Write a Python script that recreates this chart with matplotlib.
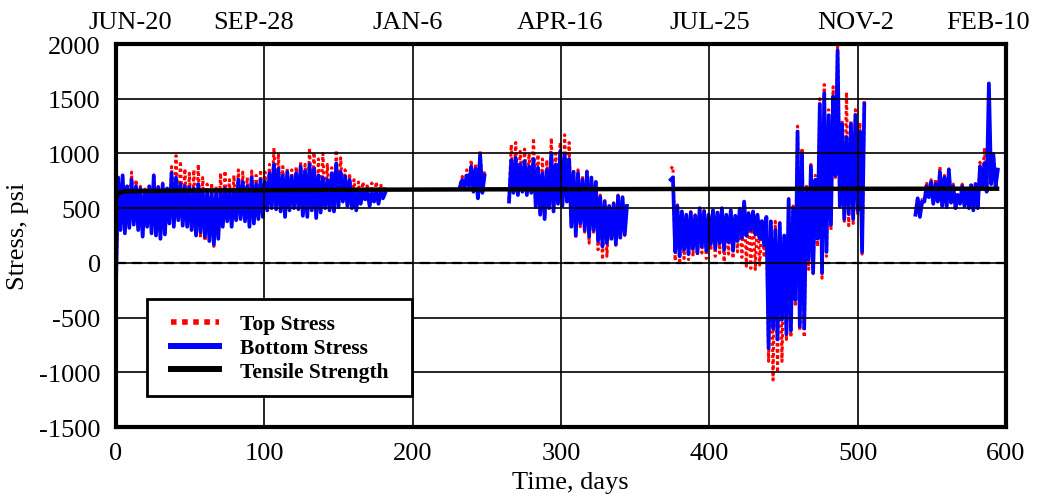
import matplotlib
matplotlib.use("Agg")
import matplotlib.pyplot as plt
from matplotlib.lines import Line2D
from matplotlib.patches import Rectangle

plt.rcParams['font.family'] = ['Liberation Serif', 'DejaVu Serif']
plt.rcParams['axes.unicode_minus'] = False

# sampling step of the read-off values (days)
step = 3

# segment 1: days 0..180
s1_start = 0
s1_bot_hi = [780, 800, 700, 760, 700, 680, 660, 700, 800, 690,
             720, 680, 820, 780, 720, 700, 690, 680, 720, 660,
             650, 660, 640, 660, 680, 660, 670, 760, 740, 700,
             780, 720, 760, 740, 820, 900, 860, 800, 830, 790,
             820, 880, 840, 900, 860, 800, 780, 760, 820, 910,
             830, 790, 760, 660, 650, 660, 650, 640, 660, 650, 640]
s1_bot_lo = [-200, 300, 270, 320, 350, 300, 240, 330, 270, 250,
             220, 260, 360, 330, 390, 340, 330, 300, 250, 280,
             240, 200, 170, 220, 330, 380, 330, 390, 400, 380,
             330, 360, 400, 420, 480, 500, 490, 470, 420, 480,
             500, 490, 430, 420, 480, 410, 460, 500, 480, 470,
             510, 560, 520, 500, 480, 540, 580, 520, 560, 540, 590]
s1_top_hi = [760, 780, 720, 830, 760, 700, 690, 720, 810, 700,
             730, 700, 880, 980, 930, 860, 820, 850, 900, 780,
             720, 730, 700, 820, 840, 760, 800, 850, 830, 780,
             840, 800, 850, 830, 900, 1050, 1000, 880, 860, 850,
             880, 930, 900, 1050, 1010, 950, 1000, 900, 870, 1030,
             960, 850, 820, 760, 740, 740, 720, 730, 740, 720, 710]
s1_top_lo = [-200, 320, 290, 340, 370, 320, 260, 350, 290, 270,
             240, 280, 380, 350, 410, 360, 350, 320, 270, 230,
             200, 180, 150, 240, 350, 400, 350, 410, 420, 400,
             350, 380, 420, 440, 500, 520, 510, 490, 440, 500,
             520, 510, 450, 440, 500, 430, 480, 520, 500, 490,
             530, 580, 540, 520, 500, 560, 600, 540, 580, 560, 610]

# segment 2: days 232..247
s2_start = 232
s2_bot_hi = [760, 800, 880, 860, 990, 800]
s2_bot_lo = [700, 690, 700, 650, 590, 640]
s2_top_hi = [790, 850, 940, 910, 1030, 850]
s2_top_lo = [720, 710, 720, 670, 610, 660]

# segment 3: days 265..343
s3_start = 265
s3_bot_hi = [940, 960, 900, 930, 880, 950, 870, 820, 850, 1000,
             900, 1020, 990, 950, 830, 820, 760, 830, 780, 740,
             600, 560, 520, 540, 610, 600, 520]
s3_bot_lo = [560, 640, 620, 650, 620, 640, 510, 440, 400, 500,
             470, 540, 520, 560, 330, 250, 360, 300, 240, 300,
             200, 150, 180, 220, 170, 230, 260]
s3_top_hi = [1080, 1100, 1020, 1040, 1000, 1140, 990, 950, 940, 1140,
             1000, 1100, 1170, 1100, 860, 850, 800, 840, 790, 760,
             620, 570, 530, 550, 620, 610, 530]
s3_top_lo = [580, 660, 640, 670, 640, 660, 530, 460, 420, 520,
             490, 560, 540, 580, 350, 230, 330, 280, 180, 280,
             120, 30, 60, 200, 160, 210, 250]

# segment 4: days 374..503
s4_start = 374
s4_bot_hi = [780, 520, 470, 440, 460, 430, 500, 470, 440, 480,
             460, 500, 440, 480, 430, 490, 560, 450, 470, 440,
             380, 420, 380, 300, 360, 250, 580, 500, 1200, 1000,
             650, 880, 760, 1450, 1550, 1350, 1520, 1940, 1270, 1150,
             1270, 1350, 1200, 1450]
s4_bot_lo = [760, 100, 60, 120, 80, 130, 90, 150, 110, 170,
             130, 180, 120, 190, 110, 200, 230, 250, 300, 260,
             220, 160, -780, -600, -700, -520, -650, -620, -340, -580,
             -600, 30, -90, 220, -90, 100, 350, 800, 520, 400,
             450, 400, 480, 100]
s4_top_hi = [880, 530, 480, 450, 470, 440, 510, 480, 450, 490,
             470, 510, 450, 490, 440, 500, 570, 460, 480, 450,
             400, 430, 400, 380, 370, 260, 590, 520, 1250, 1050,
             700, 900, 800, 1500, 1630, 1400, 1610, 1990, 1300, 1560,
             1300, 1400, 1280, 1480]
s4_top_lo = [860, 20, -10, 40, 30, 60, 70, 90, 40, 110,
             60, 90, 10, 80, 40, 100, 50, -30, -50, -60,
             -20, 50, -900, -1070, -1000, -900, -700, -680, -400, -620,
             -680, -60, -100, 150, -140, 60, 300, 780, 500, 380,
             340, 360, 450, 80]

# segment 5: days 539..593
s5_start = 539
s5_bot_hi = [590, 560, 700, 740, 720, 830, 780, 850, 700, 620,
             700, 660, 710, 720, 880, 910, 1640, 990, 850]
s5_bot_lo = [440, 420, 560, 600, 540, 560, 520, 510, 550, 500,
             540, 520, 500, 480, 500, 700, 650, 720, 700]
s5_top_hi = [600, 580, 740, 760, 770, 880, 800, 860, 720, 640,
             720, 700, 720, 740, 920, 1050, 1100, 1000, 870]
s5_top_lo = [450, 430, 570, 610, 550, 570, 530, 520, 560, 510,
             550, 530, 510, 490, 510, 710, 660, 730, 710]

# tensile strength
ts_days = [0, 2, 6, 60, 150, 250, 400, 594]
ts_vals = [600, 640, 655, 662, 668, 672, 676, 678]

x_ticks = [0, 100, 200, 300, 400, 500, 600]
y_ticks = [-1500, -1000, -500, 0, 500, 1000, 1500, 2000]
date_labels = ['JUN-20', 'SEP-28', 'JAN-6', 'APR-16', 'JUL-25', 'NOV-2', 'FEB-10']
date_pos = [9.5, 92.5, 197, 299.5, 400.5, 499, 588]


def zigzag(start, lo, hi):
    t, v = [], []
    for i in range(len(lo)):
        t += [start + i * step, start + i * step + step / 2]
        v += [lo[i], hi[i]]
    return t, v


segments = [
    (s1_start, s1_bot_lo, s1_bot_hi, s1_top_lo, s1_top_hi),
    (s2_start, s2_bot_lo, s2_bot_hi, s2_top_lo, s2_top_hi),
    (s3_start, s3_bot_lo, s3_bot_hi, s3_top_lo, s3_top_hi),
    (s4_start, s4_bot_lo, s4_bot_hi, s4_top_lo, s4_top_hi),
    (s5_start, s5_bot_lo, s5_bot_hi, s5_top_lo, s5_top_hi),
]

fig = plt.figure(figsize=(10.39, 5.02), dpi=100)
ax = fig.add_axes([0.1116, 0.1474, 0.8566, 0.7629])

ax.axhline(0, color='black', lw=1.6, dashes=(4.5, 2.7), zorder=1)

for start, blo, bhi, tlo, thi in segments:
    t, v = zigzag(start, tlo, thi)
    ax.plot(t, v, color='red', lw=2.2, dashes=(1, 1), zorder=2)
    t, v = zigzag(start, blo, bhi)
    ax.plot(t, v, color='blue', lw=2.7, zorder=2.2)

ax.plot(ts_days, ts_vals, color='black', lw=3.2, zorder=3)

ax.set_xlim(0, 600)
ax.set_ylim(-1500, 2000)
ax.set_xticks(x_ticks)
ax.set_yticks(y_ticks)
ax.grid(True, color='black', lw=1.2)
ax.set_axisbelow(False)
ax.tick_params(length=0, labelsize=19, pad=11)
ax.tick_params(axis='y', pad=11)
for s in ax.spines.values():
    s.set_linewidth(3)
ax.set_xlabel('Time, days', fontsize=19, labelpad=2)
ax.xaxis.set_label_coords(0.51, -0.115)
ax.set_ylabel('Stress, psi', fontsize=19, labelpad=7)

ax2 = ax.twiny()
ax2.set_xlim(ax.get_xlim())
ax2.set_xticks(date_pos)
ax2.set_xticklabels(date_labels)
ax2.tick_params(length=0, labelsize=19, pad=8)
for s in ax2.spines.values():
    s.set_visible(False)

# legend box
ax.add_patch(Rectangle((0.0348, 0.081), 0.2978, 0.253, transform=ax.transAxes,
                       facecolor='white', edgecolor='black', lw=2, zorder=4))
handles = [
    Line2D([], [], color='red', lw=4, dashes=(1, 1)),
    Line2D([], [], color='blue', lw=4.3),
    Line2D([], [], color='black', lw=4.3),
]
leg = ax.legend(handles, ['Top Stress', 'Bottom Stress', 'Tensile Strength'],
                loc='center left', bbox_to_anchor=(0.0618, 0.206),
                prop={'weight': 'bold', 'size': 15.5},
                handlelength=2.23, handletextpad=1.0, labelspacing=0.17,
                borderpad=0, borderaxespad=0, frameon=False)
leg.set_zorder(5)

fig.savefig('out.png', dpi=100)
